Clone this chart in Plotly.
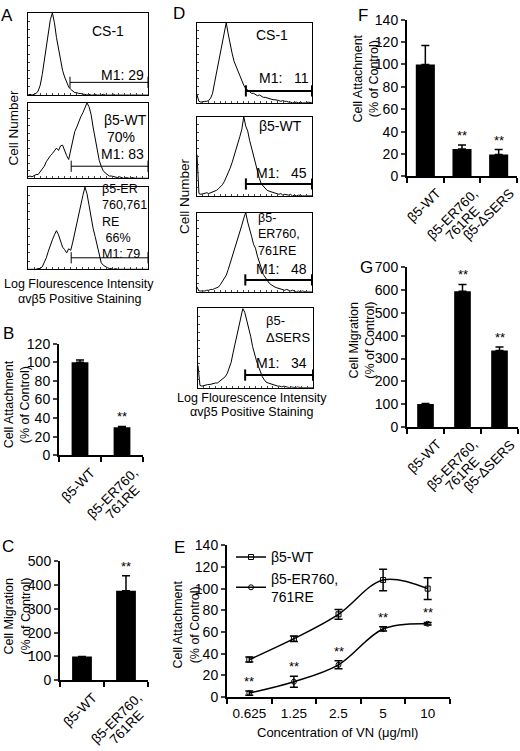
import numpy as np
import plotly.graph_objects as go

W, H = 520, 751
FONT = "Liberation Sans, Arial, Helvetica, sans-serif"

# ---------------- DATA ----------------
# Panel A: flow cytometry histograms (relative counts, 60 bins over 4 log decades)
A_cs1 = [0.00, 0.01, 0.00, 0.01, 0.02, 0.05, 0.12, 0.25, 0.42, 0.60,
         0.78, 0.92, 1.00, 0.88, 0.70, 0.55, 0.42, 0.30, 0.22, 0.15,
         0.10, 0.07, 0.05, 0.03, 0.03, 0.02, 0.02, 0.01, 0.01, 0.00,
         0.01, 0.00, 0.00, 0.01, 0.00, 0.00, 0.00, 0.01, 0.00, 0.00,
         0.00, 0.00, 0.01, 0.00, 0.00, 0.00, 0.00, 0.00, 0.00, 0.00,
         0.00, 0.00, 0.00, 0.00, 0.00, 0.00, 0.00, 0.00, 0.00, 0.00]
A_wt = [0.02, 0.03, 0.02, 0.04, 0.05, 0.05, 0.09, 0.12, 0.16, 0.22,
        0.27, 0.30, 0.33, 0.36, 0.40, 0.37, 0.43, 0.44, 0.36, 0.30,
        0.25, 0.38, 0.52, 0.62, 0.68, 0.76, 0.82, 0.87, 0.94, 1.00,
        0.95, 0.85, 0.68, 0.52, 0.38, 0.24, 0.16, 0.10, 0.07, 0.05,
        0.03, 0.03, 0.02, 0.02, 0.01, 0.02, 0.01, 0.00, 0.01, 0.00,
        0.00, 0.01, 0.00, 0.00, 0.00, 0.00, 0.00, 0.00, 0.00, 0.00]
A_er = [0.00, 0.00, 0.00, 0.00, 0.00, 0.01, 0.01, 0.03, 0.08, 0.14,
        0.22, 0.30, 0.36, 0.42, 0.47, 0.42, 0.33, 0.27, 0.24, 0.20,
        0.25, 0.23, 0.33, 0.45, 0.58, 0.70, 0.80, 0.90, 1.00, 0.92,
        0.78, 0.62, 0.50, 0.40, 0.28, 0.17, 0.08, 0.05, 0.03, 0.02,
        0.01, 0.01, 0.00, 0.01, 0.00, 0.00, 0.00, 0.00, 0.00, 0.00,
        0.00, 0.00, 0.00, 0.00, 0.00, 0.00, 0.00, 0.00, 0.00, 0.00]
A_gate_start = [1.40, 1.44, 1.44]   # log units
A_gate_level = [0.155, 0.16, 0.14]

# Panel D: flow cytometry histograms
D_cs1 = [0.10, 0.02, 0.01, 0.02, 0.02, 0.02, 0.03, 0.06, 0.12, 0.25,
         0.38, 0.52, 0.66, 0.75, 0.92, 1.00, 0.86, 0.72, 0.62, 0.52,
         0.46, 0.38, 0.32, 0.27, 0.22, 0.18, 0.16, 0.14, 0.12, 0.12,
         0.10, 0.09, 0.10, 0.08, 0.07, 0.07, 0.06, 0.05, 0.05, 0.04,
         0.04, 0.03, 0.03, 0.02, 0.03, 0.02, 0.02, 0.01, 0.01, 0.00,
         0.01, 0.01, 0.00, 0.01, 0.00, 0.00, 0.00, 0.01, 0.00, 0.00]
D_wt = [0.52, 0.03, 0.02, 0.03, 0.03, 0.04, 0.03, 0.04, 0.05, 0.05,
        0.07, 0.09, 0.11, 0.14, 0.18, 0.23, 0.28, 0.35, 0.42, 0.50,
        0.58, 0.64, 0.75, 0.84, 1.00, 0.88, 0.82, 0.70, 0.60, 0.50,
        0.40, 0.30, 0.22, 0.15, 0.12, 0.09, 0.07, 0.06, 0.05, 0.04,
        0.03, 0.03, 0.02, 0.03, 0.01, 0.02, 0.01, 0.01, 0.02, 0.00,
        0.01, 0.00, 0.01, 0.00, 0.00, 0.00, 0.00, 0.00, 0.00, 0.00]
D_er = [0.06, 0.01, 0.01, 0.01, 0.01, 0.02, 0.02, 0.03, 0.03, 0.04,
        0.05, 0.06, 0.09, 0.13, 0.17, 0.21, 0.28, 0.36, 0.44, 0.50,
        0.57, 0.65, 0.75, 0.84, 0.93, 1.00, 0.88, 0.80, 0.70, 0.60,
        0.55, 0.45, 0.36, 0.30, 0.22, 0.18, 0.14, 0.11, 0.09, 0.07,
        0.06, 0.05, 0.04, 0.04, 0.03, 0.02, 0.03, 0.02, 0.01, 0.02,
        0.01, 0.00, 0.01, 0.00, 0.01, 0.00, 0.00, 0.00, 0.00, 0.00]
D_sers = [0.28, 0.03, 0.02, 0.03, 0.03, 0.04, 0.04, 0.05, 0.05, 0.06,
          0.06, 0.08, 0.09, 0.11, 0.14, 0.18, 0.24, 0.32, 0.44, 0.56,
          0.68, 0.78, 0.92, 1.00, 0.95, 0.85, 0.76, 0.65, 0.52, 0.42,
          0.34, 0.27, 0.20, 0.14, 0.10, 0.07, 0.06, 0.05, 0.04, 0.03,
          0.03, 0.02, 0.02, 0.01, 0.02, 0.01, 0.01, 0.00, 0.01, 0.00,
          0.00, 0.01, 0.00, 0.00, 0.00, 0.00, 0.00, 0.00, 0.00, 0.00]
D_gate_start = [1.70, 1.70, 1.68, 1.64]
D_gate_level = [0.15, 0.15, 0.15, 0.16]

# Panel B: attachment
B_labels = [["β5-WT"], ["β5-ER760,", "761RE"]]
B_vals = [100, 30]
B_errs = [2.5, 1]
B_sig = ["", "**"]

# Panel C: migration
C_labels = [["β5-WT"], ["β5-ER760,", "761RE"]]
C_vals = [100, 375]
C_errs = [0, 63]
C_sig = ["", "**"]

# Panel E: dose response
E_conc = ["0.625", "1.25", "2.5", "5", "10"]
E_wt = [34.5, 53.8, 76.3, 108, 100]
E_wt_err = [2.3, 2.5, 4.5, 10, 10]
E_er = [3.6, 14.1, 29.7, 62.8, 67.6]
E_er_err = [2, 5, 3.7, 2, 1.2]

# Panel F: attachment
F_labels = [["β5-WT"], ["β5-ER760,", "761RE"], ["β5-ΔSERS"]]
F_vals = [100, 24.5, 19.5]
F_errs = [17, 3.5, 4.4]
F_sig = ["", "**", "**"]

# Panel G: migration
G_labels = [["β5-WT"], ["β5-ER760,", "761RE"], ["β5-ΔSERS"]]
G_vals = [100, 595, 335]
G_errs = [3, 30, 15]
G_sig = ["", "**", "**"]

# ---------------- FIGURE ----------------
fig = go.Figure()
layout = dict(width=W, height=H, margin=dict(l=0, r=0, t=0, b=0),
              paper_bgcolor="white", plot_bgcolor="white",
              font=dict(family=FONT, size=13, color="black"))
annotations = []
counter = [0]
TICK = 14
LAB = 13.5


def px(x):
    return x / W


def py(y):
    return 1 - y / H


def add_axes(x0, x1, y0, y1, xopts, yopts):
    counter[0] += 1
    n = counter[0]
    s = "" if n == 1 else str(n)
    layout["xaxis" + s] = dict(domain=[px(x0), px(x1)], anchor="y" + s, **xopts)
    layout["yaxis" + s] = dict(domain=[py(y1), py(y0)], anchor="x" + s, **yopts)
    return "x" + s, "y" + s


def text(x, y, t, size=13.5, xanchor="center", yanchor="middle", angle=0, align="center"):
    annotations.append(dict(x=px(x), y=py(y), xref="paper", yref="paper", text=t,
                            showarrow=False, xanchor=xanchor, yanchor=yanchor, align=align,
                            textangle=angle, font=dict(size=size, family=FONT, color="black")))


hist_x = dict(range=[0, 4], showline=True, mirror=True, linecolor="black", linewidth=1,
              ticks="inside", ticklen=2, tickwidth=1, dtick=0.2, showticklabels=False,
              showgrid=False, zeroline=False)
hist_y = dict(range=[0, 1.0], showline=True, mirror=True, linecolor="black", linewidth=1,
              ticks="inside", ticklen=2, tickwidth=1, dtick=0.1, showticklabels=False,
              showgrid=False, zeroline=False)


def add_hist(box, vals, gate_start, gate_level, gate_w):
    xr, yr = add_axes(*box, hist_x, hist_y)
    bins = np.linspace(0, 4, len(vals))
    fig.add_trace(go.Scatter(x=bins, y=vals, xaxis=xr, yaxis=yr, mode="lines",
                             line=dict(color="black", width=1), showlegend=False,
                             hoverinfo="skip"))
    fig.add_trace(go.Scatter(x=[gate_start, 4], y=[gate_level, gate_level], xaxis=xr, yaxis=yr,
                             mode="lines+markers", line=dict(color="black", width=gate_w),
                             marker=dict(symbol="line-ns-open", size=8,
                                         line=dict(color="black", width=gate_w)),
                             showlegend=False, hoverinfo="skip", cliponaxis=False))


# Panel A
A_boxes = [(28, 148, 5, 89), (28, 148, 97, 174), (28, 148, 183, 267)]
for box, vals, gs, gl in zip(A_boxes, [A_cs1, A_wt, A_er], A_gate_start, A_gate_level):
    add_hist(box, vals, gs, gl, 1)

# Panel D
D_boxes = [(197, 312, 15, 97), (197, 312, 111, 192), (197, 312, 209, 290), (198, 313, 307, 388)]
for box, vals, gs, gl in zip(D_boxes, [D_cs1, D_wt, D_er, D_sers], D_gate_start, D_gate_level):
    add_hist(box, vals, gs, gl, 2)


def add_bar(box, labels, vals, errs, sig, ymax, dtick, width):
    n = len(vals)
    xo = dict(range=[-0.5, n - 0.5], tickmode="array", tickvals=list(range(n)),
              showticklabels=False, ticks="", showline=True, linewidth=2, linecolor="black",
              showgrid=False, zeroline=False,
              minor=dict(tickmode="array", tickvals=[i - 0.5 for i in range(n + 1)],
                         ticks="outside", ticklen=5, tickwidth=2, tickcolor="black"))
    yo = dict(range=[0, ymax], dtick=dtick, ticks="outside", ticklen=4, tickwidth=2,
              showline=True, linewidth=2, linecolor="black", showgrid=False, zeroline=False,
              tickfont=dict(size=TICK))
    xr, yr = add_axes(*box, xo, yo)
    fig.add_trace(go.Bar(x=list(range(n)), y=vals, width=width, xaxis=xr, yaxis=yr,
                         marker=dict(color="black", line=dict(width=0)), showlegend=False,
                         error_y=dict(type="data", array=errs, arrayminus=[0] * n,
                                      symmetric=False, color="black", thickness=1.5, width=4)))
    for i in range(n):
        if sig[i]:
            annotations.append(dict(x=i, y=vals[i] + errs[i], xref=xr, yref=yr, text=sig[i],
                                    showarrow=False, yanchor="bottom", yshift=0,
                                    font=dict(size=13, family=FONT, color="black")))
    # rotated category labels (-45 deg); each line is its own annotation so the
    # line spacing can be as tight as in the original
    axis_y = box[3]
    base_shift = 0.707 * 1.3 * LAB + 9
    for i, lines in enumerate(labels):
        for k, line in enumerate(lines):
            annotations.append(dict(x=i, y=py(axis_y + 7 + 18 * k), xref=xr, yref="paper",
                                    text=line, textangle=-45, xanchor="right", yanchor="top",
                                    showarrow=False, xshift=base_shift + 1.5 * k,
                                    font=dict(size=LAB, family=FONT, color="black")))


add_bar((59, 143, 343, 457), B_labels, B_vals, B_errs, B_sig, 120, 20, 0.4)
add_bar((60, 148, 565, 687), C_labels, C_vals, C_errs, C_sig, 500, 100, 0.45)
add_bar((407, 517, 12, 172), F_labels, F_vals, F_errs, F_sig, 140, 20, 0.52)
add_bar((407, 518, 265, 428), G_labels, G_vals, G_errs, G_sig, 700, 100, 0.45)

# Panel E
xo = dict(range=[-0.5, 4.5], tickmode="array", tickvals=list(range(5)), ticktext=E_conc,
          ticks="outside", ticklen=3, tickcolor="rgba(0,0,0,0)", showline=True, linewidth=2,
          linecolor="black", showgrid=False, zeroline=False, tickfont=dict(size=13.5),
          minor=dict(tickmode="array", tickvals=[i - 0.5 for i in range(6)],
                     ticks="outside", ticklen=5, tickwidth=2, tickcolor="black"))
yo = dict(range=[0, 140], dtick=20, ticks="outside", ticklen=4, tickwidth=2, showline=True,
          linewidth=2, linecolor="black", showgrid=False, zeroline=False, tickfont=dict(size=TICK))
exr, eyr = add_axes(227, 450, 549, 704, xo, yo)
fig.add_trace(go.Scatter(x=list(range(5)), y=E_wt, xaxis=exr, yaxis=eyr, name="β5-WT",
                         mode="lines+markers", line=dict(color="black", width=1.5, shape="spline"),
                         marker=dict(symbol="square-open", size=5, color="black"),
                         error_y=dict(type="data", array=E_wt_err, color="black", thickness=1.5,
                                      width=4), cliponaxis=False))
fig.add_trace(go.Scatter(x=list(range(5)), y=E_er, xaxis=exr, yaxis=eyr, name="β5-ER760,<br>761RE",
                         mode="lines+markers", line=dict(color="black", width=1.5, shape="spline"),
                         marker=dict(symbol="circle-open", size=5, color="black"),
                         error_y=dict(type="data", array=E_er_err, color="black", thickness=1.5,
                                      width=4), cliponaxis=False))
for i in range(5):
    annotations.append(dict(x=i, y=E_er[i] + E_er_err[i], xref=exr, yref=eyr, text="**",
                            showarrow=False, yanchor="bottom", yshift=0,
                            font=dict(size=13, family=FONT, color="black")))

layout["legend"] = dict(x=px(231), y=py(545), xanchor="left", yanchor="top",
                        bgcolor="rgba(0,0,0,0)", font=dict(size=14, family=FONT),
                        tracegroupgap=0, itemwidth=30)
layout["showlegend"] = True

# ---------------- TEXT ----------------
# panel letters
for (x, y, t) in [(7, 8, "A"), (179, 6, "D"), (8, 333, "B"), (8, 550, "C"),
                  (179, 551, "E"), (363, 8, "F"), (366, 265, "G")]:
    text(x, y, t, size=17)

# Panel A labels
text(108, 23, "CS-1", size=14)
text(146, 68, "M1: 29", xanchor="right", size=14)
text(102, 114, "β5-WT", xanchor="left", size=14)
text(105, 132, "70%", xanchor="left", size=14)
text(146, 149, "M1: 83", xanchor="right", size=14)
text(100, 218, "β5-ER<br>760,761<br>RE<br>\u00a066%<br>M1: 79", xanchor="left", size=12.5,
     align="left")
text(13, 122, "Cell Number", angle=-90, size=13.5)
text(79, 282, "Log Flourescence Intensity", size=12.5)
text(80, 297, "αvβ5 Positive Staining", size=12.5)

# Panel D labels
text(272, 28, "CS-1", size=14)
text(311, 72, "M1:\u00a0\u00a0\u00a011", xanchor="right", size=14)
text(257, 121, "β5-WT", xanchor="left", size=14)
text(309, 169, "M1:\u00a0\u00a0\u00a045", xanchor="right", size=14)
text(256, 231, "β5-<br>ER760,<br>761RE", xanchor="left", size=12.5, align="left")
text(309, 267, "M1:\u00a0\u00a0\u00a048", xanchor="right", size=14)
text(264, 328, "β5-<br>ΔSERS", xanchor="left", size=13, align="left")
text(309, 363, "M1:\u00a0\u00a0\u00a034", xanchor="right", size=14)
text(185, 192, "Cell Number", angle=-90, size=13.5)
text(252, 399, "Log Flourescence Intensity", size=12.5)
text(252, 413, "αvβ5 Positive Staining", size=12.5)

# axis titles
text(17, 405, "Cell Attachment<br>(% of Control)", angle=-90, size=12.5)
text(17, 622, "Cell Migration<br>(% of Control)", angle=-90, size=12.5)
text(186, 630, "Cell Attachment<br>(% of Control)", angle=-90, size=12.5)
text(366, 72, "Cell Attachment<br>(% of Control)", angle=-90, size=12.5)
text(362, 340, "Cell Migration<br>(% of Control)", angle=-90, size=12.5)
text(337, 740, "Concentration of VN (μg/ml)", size=13)

layout["annotations"] = annotations
fig.update_layout(**layout)
fig.write_html("out.html", include_plotlyjs=True, config={"displayModeBar": False},
               post_script="document.body.style.margin='0px';")
